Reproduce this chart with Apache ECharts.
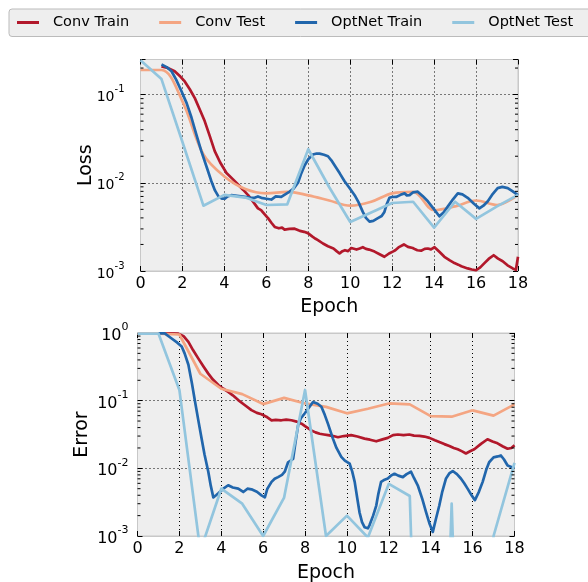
<!DOCTYPE html>
<html><head><meta charset="utf-8">
<script src="https://cdn.jsdelivr.net/npm/echarts@6/dist/echarts.min.js"></script>
<style>html,body{margin:0;padding:0;background:#fff}#c{width:588px;height:582px}</style>
</head><body><div id="c"></div>
<script>
// ---------- data ----------
const seriesNames = ['Conv Train', 'Conv Test', 'OptNet Train', 'OptNet Test'];
const testEpochs = [0,1,2,3,4,5,6,7,8,9,10,11,12,13,14,15,16,17,18];
const xTicks = [0,2,4,6,8,10,12,14,16,18];

// Loss (top)
const convTrainLoss = [[1.0,0.209],[1.3,0.200],[1.63,0.184],[1.9,0.160],[2.11,0.141],[2.35,0.115],[2.59,0.0912],[2.8,0.070],[3.06,0.0501],[3.3,0.034],[3.54,0.0229],[3.8,0.017],[4.1,0.0129],[4.4,0.011],[4.65,0.00955],[4.9,0.0083],[5.13,0.00724],[5.35,0.0062],[5.6,0.00513],[5.75,0.0049],[5.85,0.0046],[6.08,0.00398],[6.25,0.0035],[6.4,0.00316],[6.6,0.00305],[6.75,0.00310],[6.87,0.00295],[7.1,0.00300],[7.35,0.00302],[7.5,0.00292],[7.6,0.00285],[7.8,0.00278],[7.98,0.00269],[8.2,0.00245],[8.35,0.00232],[8.46,0.00224],[8.7,0.00205],[8.94,0.00191],[9.2,0.00180],[9.35,0.00168],[9.49,0.00158],[9.6,0.00166],[9.75,0.00172],[9.9,0.00168],[10.05,0.00182],[10.3,0.00175],[10.45,0.00180],[10.6,0.00186],[10.75,0.00178],[10.9,0.00175],[11.16,0.00166],[11.4,0.00155],[11.63,0.00145],[11.85,0.00158],[12.03,0.00166],[12.15,0.00172],[12.3,0.00185],[12.56,0.00200],[12.75,0.00188],[12.98,0.00182],[13.1,0.00176],[13.2,0.00172],[13.38,0.00170],[13.55,0.00178],[13.7,0.00180],[13.85,0.00176],[14.02,0.00186],[14.25,0.00165],[14.49,0.00145],[14.75,0.00132],[14.97,0.00123],[15.15,0.00118],[15.3,0.00113],[15.6,0.00107],[15.8,0.00104],[16.0,0.00102],[16.2,0.00110],[16.4,0.00123],[16.6,0.00137],[16.84,0.00151],[17.05,0.00138],[17.27,0.00129],[17.5,0.00116],[17.75,0.00107],[17.9,0.00103],[18.0,0.00145]];
const convTestLoss = [0.19,0.19,0.084,0.021,0.0118,0.0085,0.0076,0.0079,0.0072,0.0063,0.0055,0.0061,0.0076,0.0079,0.0049,0.0054,0.0063,0.0056,0.0073];
const optTrainLoss = [[1.0,0.219],[1.25,0.205],[1.48,0.184],[1.7,0.148],[1.95,0.110],[2.2,0.080],[2.43,0.055],[2.65,0.036],[2.9,0.0229],[3.15,0.0152],[3.38,0.0104],[3.55,0.0082],[3.73,0.00692],[3.9,0.0066],[4.02,0.00661],[4.15,0.0070],[4.33,0.00724],[4.6,0.0071],[4.97,0.00692],[5.2,0.0068],[5.44,0.00676],[5.6,0.0070],[5.76,0.00676],[6.0,0.0066],[6.24,0.00646],[6.45,0.0070],[6.71,0.00692],[6.9,0.0074],[7.11,0.00794],[7.3,0.0086],[7.51,0.0100],[7.65,0.0125],[7.83,0.0158],[8.0,0.0185],[8.22,0.0209],[8.4,0.0215],[8.54,0.0214],[8.75,0.0208],[8.94,0.0200],[9.1,0.0180],[9.33,0.0148],[9.5,0.0128],[9.73,0.0104],[10.0,0.0085],[10.21,0.00724],[10.4,0.0060],[10.6,0.00468],[10.75,0.0040],[10.92,0.00363],[11.1,0.0037],[11.32,0.00398],[11.5,0.0042],[11.63,0.00468],[11.75,0.0058],[11.87,0.00676],[12.0,0.0069],[12.19,0.00692],[12.4,0.0073],[12.59,0.00759],[12.7,0.0072],[12.83,0.00724],[13.0,0.0078],[13.22,0.00794],[13.45,0.0071],[13.7,0.00617],[14.0,0.0050],[14.25,0.00417],[14.45,0.0046],[14.65,0.00537],[14.9,0.0065],[15.13,0.00759],[15.35,0.0074],[15.6,0.00676],[15.9,0.0058],[16.16,0.00513],[16.35,0.0055],[16.56,0.00617],[16.8,0.0075],[17.03,0.00871],[17.25,0.0090],[17.51,0.00871],[17.75,0.0080],[18.0,0.00724]];
const optTestLoss = [0.245,0.15,0.029,0.0055,0.0073,0.0068,0.0056,0.0057,0.024,0.0089,0.0036,0.0046,0.0059,0.0061,0.0031,0.0061,0.0039,0.0054,0.0073];

// Error (bottom)
const convTrainErr = [[1.0,0.99],[1.5,0.99],[1.95,0.98],[2.2,0.90],[2.43,0.741],[2.65,0.56],[2.9,0.422],[3.15,0.32],[3.38,0.251],[3.6,0.205],[3.86,0.170],[4.1,0.150],[4.33,0.135],[4.55,0.120],[4.81,0.102],[5.1,0.087],[5.44,0.0724],[5.7,0.066],[5.92,0.0631],[6.15,0.058],[6.4,0.0513],[6.6,0.0520],[6.87,0.0513],[7.1,0.0525],[7.35,0.0513],[7.6,0.049],[7.83,0.0457],[8.05,0.041],[8.3,0.0363],[8.5,0.034],[8.7,0.0324],[8.9,0.0316],[9.1,0.0309],[9.35,0.030],[9.57,0.0288],[9.85,0.0300],[10.2,0.0309],[10.5,0.0295],[10.84,0.0275],[11.1,0.0265],[11.4,0.0251],[11.7,0.0268],[11.95,0.0282],[12.2,0.031],[12.43,0.0316],[12.7,0.0310],[12.98,0.0316],[13.2,0.0305],[13.46,0.0302],[13.7,0.0295],[13.94,0.0282],[14.2,0.026],[14.41,0.0245],[14.65,0.0228],[14.89,0.0214],[15.1,0.0200],[15.29,0.0191],[15.5,0.0178],[15.68,0.0166],[15.9,0.0180],[16.08,0.0191],[16.4,0.0230],[16.71,0.0269],[16.95,0.0250],[17.19,0.0234],[17.45,0.0210],[17.67,0.0195],[17.85,0.0200],[18.0,0.0219]];
const convTestErr = [0.98,0.98,0.95,0.25,0.15,0.125,0.089,0.11,0.091,0.081,0.065,0.076,0.091,0.088,0.059,0.058,0.072,0.060,0.088];
const optTrainErr = [[1.0,0.99],[1.3,0.99],[1.63,0.83],[1.9,0.72],[2.11,0.63],[2.25,0.50],[2.43,0.339],[2.6,0.18],[2.75,0.0955],[2.9,0.052],[3.06,0.0275],[3.2,0.016],[3.38,0.00891],[3.5,0.0055],[3.62,0.00372],[3.75,0.0040],[3.86,0.00427],[4.1,0.0050],[4.33,0.00562],[4.55,0.0052],[4.81,0.00501],[5.05,0.00447],[5.25,0.0050],[5.44,0.0049],[5.7,0.0045],[5.92,0.00398],[6.08,0.00372],[6.2,0.0050],[6.4,0.00631],[6.55,0.0070],[6.71,0.00741],[6.9,0.0080],[7.03,0.00891],[7.19,0.0123],[7.43,0.0138],[7.55,0.025],[7.67,0.0437],[7.8,0.055],[7.98,0.0646],[8.2,0.080],[8.38,0.0955],[8.6,0.090],[8.78,0.0813],[8.94,0.0617],[9.1,0.045],[9.33,0.0275],[9.5,0.020],[9.73,0.0148],[9.9,0.0130],[10.13,0.0117],[10.25,0.0090],[10.37,0.00631],[10.5,0.0035],[10.6,0.00224],[10.72,0.0016],[10.84,0.00135],[11.0,0.0013],[11.08,0.00145],[11.25,0.0020],[11.4,0.00282],[11.5,0.0042],[11.63,0.00631],[11.8,0.0068],[11.95,0.00708],[12.1,0.0078],[12.27,0.00832],[12.45,0.0078],[12.67,0.00741],[12.85,0.0082],[13.06,0.00891],[13.2,0.0072],[13.38,0.00562],[13.6,0.0035],[13.78,0.00224],[13.95,0.0015],[14.1,0.00115],[14.25,0.0018],[14.41,0.00282],[14.55,0.0045],[14.73,0.00708],[14.9,0.0085],[15.05,0.00912],[15.25,0.0082],[15.44,0.00708],[15.6,0.0060],[15.76,0.00501],[15.95,0.0040],[16.11,0.00339],[16.3,0.0045],[16.48,0.00631],[16.65,0.0095],[16.79,0.0123],[17.0,0.0145],[17.2,0.0150],[17.35,0.0155],[17.5,0.0135],[17.67,0.0110],[17.85,0.0105],[18.0,0.0100]];
const optTestErr = [0.98,0.98,0.144,0.0006,0.005,0.003,0.001,0.0037,0.144,0.001,0.002,0.00095,0.0059,0.0039,0,0.003,0,0.001,0.012];

// tick values
const lossMinor = [0.002,0.003,0.004,0.005,0.006,0.007,0.008,0.009,0.02,0.03,0.04,0.05,0.06,0.07,0.08,0.09,0.2];
const errMinor = [0.002,0.003,0.004,0.005,0.006,0.007,0.008,0.009,0.02,0.03,0.04,0.05,0.06,0.07,0.08,0.09,0.2,0.3,0.4,0.5,0.6,0.7,0.8,0.9];

// ---------- chart ----------
const colors = {'Conv Train':'#b2182b','Conv Test':'#f4a582','OptNet Train':'#2166ac','OptNet Test':'#92c5de'};
const FONT = 'DejaVu Sans';
const ZERO_ON_LOG = 1e-12; // zero error drawn far below the log axis, as matplotlib clips it

function pairs(xs, ys){ return xs.map((x,i)=>[x, ys[i] === 0 ? ZERO_ON_LOG : ys[i]]); }
function line(name, data, gi, smooth){
  return {type:'line', name, data, xAxisIndex: gi*2, yAxisIndex: gi*2, symbol:'none', smooth: smooth||false,
    clip:true, lineStyle:{color:colors[name], width:2.7, join:'round'}, itemStyle:{color:colors[name]}, z:3};
}
function xAx(gi, pos, gap){
  const bottom = pos === 'bottom';
  return {type:'value', gridIndex:gi, position:pos, min:0, max:18, interval:2,
    axisLine:{show:true, onZero:false, lineStyle:{color:'#c8c8c8', width:1}},
    axisTick:{show:true, inside:true, length:5, lineStyle:{color:'#000', width:1}},
    axisLabel:{show:bottom, color:'#000', fontSize:16, fontFamily:FONT, margin:5},
    splitLine:{show:bottom, lineStyle:{color:'#000', width:1, type:[1,3]}},
    name: bottom ? 'Epoch' : '', nameLocation:'middle', nameGap:gap||0, nameMoveOverlap:false,
    nameTextStyle:{color:'#000', fontSize:19, fontFamily:FONT}};
}
function yAx(gi, pos, max, fs, name, nameGap){
  const left = pos === 'left';
  return {type:'log', logBase:10, gridIndex:gi, position:pos, min:0.001, max:max,
    axisLine:{show:true, onZero:false, lineStyle:{color:'#c8c8c8', width:1}},
    axisTick:{show:true, inside:true, length:5, lineStyle:{color:'#000', width:1}},
    axisLabel:{show:left, margin: gi===0?16:9, formatter: v => {
        const e = Math.round(Math.log10(v));
        if (Math.abs(v/Math.pow(10,e) - 1) > 1e-6) return '';
        return '{b|10}{s|' + e + '}';
      },
      rich:{b:{fontSize:fs, fontFamily:FONT, color:'#000', lineHeight:fs+6, verticalAlign:'bottom'},
            s:{fontSize:Math.round(fs*0.7), fontFamily:FONT, color:'#000', lineHeight:Math.round(fs*0.7)+2, verticalAlign:'top'}}},
    splitLine:{show:left, showMaxLine:false, lineStyle:{color:'#000', width:1, type:[1,3]}},
    name: left ? name : '', nameLocation:'middle', nameGap:nameGap, nameRotate:90, nameMoveOverlap:false,
    nameTextStyle:{color:'#000', fontSize:19, fontFamily:FONT}};
}
function minorTicks(gi, vals){
  return {type:'custom', xAxisIndex:gi*2, yAxisIndex:gi*2, silent:true, z:4,
    data: vals.map(v=>[0,v]),
    renderItem:(params, api)=>{
      const v = api.value(1);
      const l = api.coord([0, v]), r = api.coord([18, v]);
      return {type:'group', children:[
        {type:'line', shape:{x1:l[0], y1:l[1], x2:l[0]+3, y2:l[1]}, style:{stroke:'#000', lineWidth:1}},
        {type:'line', shape:{x1:r[0]-3, y1:r[1], x2:r[0], y2:r[1]}, style:{stroke:'#000', lineWidth:1}}
      ]};
    }};
}

const option = {
  animation:false,
  textStyle:{fontFamily:FONT},
  graphic:[{type:'rect', left:8.5, top:8.5, z:0, silent:true,
    shape:{width:600, height:27.5, r:3}, style:{fill:'#eeeeee', stroke:'#bbbbbb', lineWidth:1}}],
  legend:{data:seriesNames, left:8, top:9, orient:'horizontal', z:10,
    padding:[6,0,6,9], itemGap:30, itemWidth:22, itemHeight:3, icon:'rect',
    textStyle:{fontSize:14.5, color:'#000', fontFamily:FONT, padding:[0,0,0,9]}},
  grid:[
    {left:140.5, top:59.5, width:377.5, height:211.5, show:true, outerBoundsMode:'none', backgroundColor:'#eeeeee', borderColor:'#c8c8c8', borderWidth:1},
    {left:137.5, top:333, width:377, height:203, show:true, outerBoundsMode:'none', backgroundColor:'#eeeeee', borderColor:'#c8c8c8', borderWidth:1}
  ],
  xAxis:[xAx(0,'bottom',27), xAx(0,'top'), xAx(1,'bottom',28), xAx(1,'top')],
  yAxis:[yAx(0,'left',0.25,14,'Loss',45), yAx(0,'right',0.25,14,'',0), yAx(1,'left',1,16,'Error',46), yAx(1,'right',1,16,'',0)],
  series:[
    line('Conv Train', convTrainLoss, 0),
    line('Conv Test', pairs(testEpochs, convTestLoss), 0, 0.35),
    line('OptNet Train', optTrainLoss, 0),
    line('OptNet Test', pairs(testEpochs, optTestLoss), 0),
    line('Conv Train', convTrainErr, 1),
    line('Conv Test', pairs(testEpochs, convTestErr), 1),
    line('OptNet Train', optTrainErr, 1),
    line('OptNet Test', pairs(testEpochs, optTestErr), 1),
    minorTicks(0, lossMinor),
    minorTicks(1, errMinor)
  ]
};
const chart = echarts.init(document.getElementById('c'), null, {renderer:'canvas'});
chart.setOption(option);
</script></body></html>
